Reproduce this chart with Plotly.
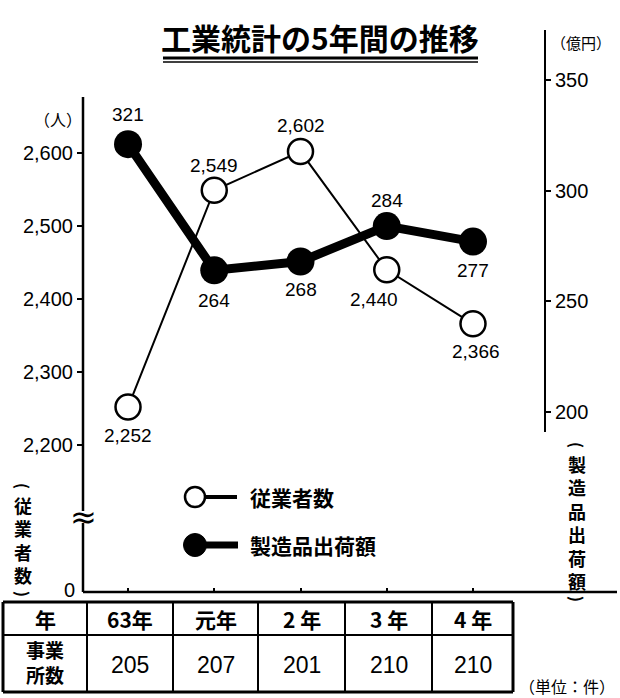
import plotly.graph_objects as go

# ---- data ----
years = ["63年", "元年", "2 年", "3 年", "4 年"]
employees = [2252, 2549, 2602, 2440, 2366]          # 従業者数 (人)
shipments = [321, 264, 268, 284, 277]               # 製造品出荷額 (億円)
establishments = [205, 207, 201, 210, 210]          # 事業所数 (件)
left_ticks = [2200, 2300, 2400, 2500, 2600]
right_ticks = [200, 250, 300, 350]

W, H = 620, 698
JP = "Noto Sans CJK JP"
NUM = "Liberation Sans, Noto Sans CJK JP"


def X(p):
    return p / W


def Y(p):
    return 1 - p / H


x_idx = list(range(len(years)))

fig = go.Figure()
fig.add_trace(go.Scatter(
    x=x_idx, y=shipments, yaxis="y2", mode="lines+markers",
    line=dict(color="black", width=9),
    marker=dict(size=28, color="black"),
    name="製造品出荷額", showlegend=False, cliponaxis=False, hoverinfo="skip"))
fig.add_trace(go.Scatter(
    x=x_idx, y=employees, yaxis="y", mode="lines+markers",
    line=dict(color="black", width=2),
    marker=dict(size=25, color="white", line=dict(color="black", width=2.5)),
    name="従業者数", showlegend=False, cliponaxis=False, hoverinfo="skip"))

ann = []
# data labels (pixel offsets are styling only)
emp_off = [(0, -28), (0, 25), (0, 26), (-13, -30), (3, -28)]
shp_off = [(0, 30), (0, -30), (0, -28), (0, 26), (0, -29)]
for i, v in enumerate(employees):
    ann.append(dict(x=i, y=v, xref="x", yref="y", text=f"{v:,}", showarrow=False,
                    xshift=emp_off[i][0], yshift=emp_off[i][1],
                    font=dict(family=NUM, size=19, color="black")))
for i, v in enumerate(shipments):
    ann.append(dict(x=i, y=v, xref="x", yref="y2", text=f"{v:,}", showarrow=False,
                    xshift=shp_off[i][0], yshift=shp_off[i][1],
                    font=dict(family=NUM, size=19, color="black")))


def txt(x, y, s, size, family=JP, xanchor="center", weight=None, angle=0):
    f = dict(family=family, size=size, color="black")
    if weight:
        f["weight"] = weight
    ann.append(dict(x=X(x), y=Y(y), xref="paper", yref="paper", text=s, showarrow=False,
                    xanchor=xanchor, yanchor="middle", font=f, textangle=angle))


# title
txt(320, 37, "工業統計の5年間の推移", 30, weight=700)
# unit labels
txt(58, 119, "（人）", 16)
txt(581, 43, "（億円）", 15)
txt(567, 686, "（単位：件）", 16)
# zero label and axis break
txt(77, 590, "0", 20, family=NUM, xanchor="right")
txt(83, 517, "≈", 32, family="DejaVu Sans")
# vertical axis titles (vertical writing)
txt(23, 540, "<br>".join(list("従業者数")), 18, weight=700)
txt(23, 486, "(", 16, weight=700, angle=90)
txt(23, 594, ")", 16, weight=700, angle=90)
txt(577, 522, "<br>".join(list("製造品出荷額")), 18, weight=700)
txt(577, 445, "(", 16, weight=700, angle=90)
txt(577, 599, ")", 16, weight=700, angle=90)
# legend text
txt(248, 497, "従業者数", 21, xanchor="left", weight=700)
txt(248, 545, "製造品出荷額", 21, xanchor="left", weight=700)

# table text
col_edges = [3, 87, 173, 258, 345, 432, 513]
row_edges = [602, 635, 692]
centers = [(col_edges[i] + col_edges[i + 1]) / 2 for i in range(len(col_edges) - 1)]
txt(centers[0], 619, "年", 21, weight=700)
for i, yr in enumerate(years):
    txt(centers[i + 1], 619, yr, 21, weight=700)
txt(centers[0], 662, "事業<br>所数", 19, weight=700)
for i, v in enumerate(establishments):
    txt(centers[i + 1], 665, str(v), 23, family=NUM)

shapes = []


def line(x0, y0, x1, y1, w=2):
    shapes.append(dict(type="line", xref="paper", yref="paper",
                       x0=X(x0), y0=Y(y0), x1=X(x1), y1=Y(y1),
                       line=dict(color="black", width=w)))


def circle(cx, cy, d, fill, w):
    shapes.append(dict(type="circle", xref="paper", yref="paper",
                       x0=X(cx - d / 2), x1=X(cx + d / 2), y0=Y(cy + d / 2), y1=Y(cy - d / 2),
                       fillcolor=fill, line=dict(color="black", width=w)))


# axes lines
line(83, 97, 83, 511, 2.5)
line(83, 523, 83, 592, 2.5)
line(545, 30, 545, 432, 2)
line(83, 592, 617, 592, 2.5)
# title underline
line(163, 58, 478, 58, 3)
line(163, 62, 478, 62, 1.5)
# legend keys
line(205, 497, 237, 497, 4)
circle(195, 497, 20, "white", 2.5)
line(206, 545, 238, 545, 7)
circle(195, 545, 23, "black", 1)
# table grid
for k, yy in enumerate(row_edges):
    line(col_edges[0], yy, col_edges[-1], yy, 3 if k != 1 else 2)
for k, xx in enumerate(col_edges):
    line(xx, row_edges[0], xx, row_edges[-1], 3 if k in (0, len(col_edges) - 1) else 2)

fig.update_layout(
    width=W, height=H, margin=dict(l=0, r=0, t=0, b=0),
    paper_bgcolor="white", plot_bgcolor="white",
    showlegend=False,
    xaxis=dict(domain=[X(83), X(545)], range=[-0.522, 4.835], showgrid=False,
               zeroline=False, showticklabels=False, tickvals=x_idx, ticks="inside",
               ticklen=4, tickwidth=2, tickcolor="black", showline=False, fixedrange=True),
    yaxis=dict(domain=[Y(592), Y(30)], range=[1998.6, 2768.5], tickvals=left_ticks,
               ticktext=[f"{v:,}" for v in left_ticks], ticks="outside", ticklen=5,
               tickwidth=2, tickcolor="black", showgrid=False, zeroline=False,
               showline=False, tickfont=dict(family=NUM, size=20, color="black"),
               fixedrange=True),
    yaxis2=dict(overlaying="y", side="right", anchor="x", range=[118.67, 372.59],
                tickvals=right_ticks, ticks="outside", ticklen=5, tickwidth=2,
                tickcolor="black", showgrid=False, zeroline=False, showline=False,
                tickfont=dict(family=NUM, size=20, color="black"), fixedrange=True),
    annotations=ann, shapes=shapes,
)

fig.write_html(
    "out.html",
    config={"displayModeBar": False, "staticPlot": True},
    post_script="document.body.style.margin='0';document.body.style.overflow='hidden';",
)
